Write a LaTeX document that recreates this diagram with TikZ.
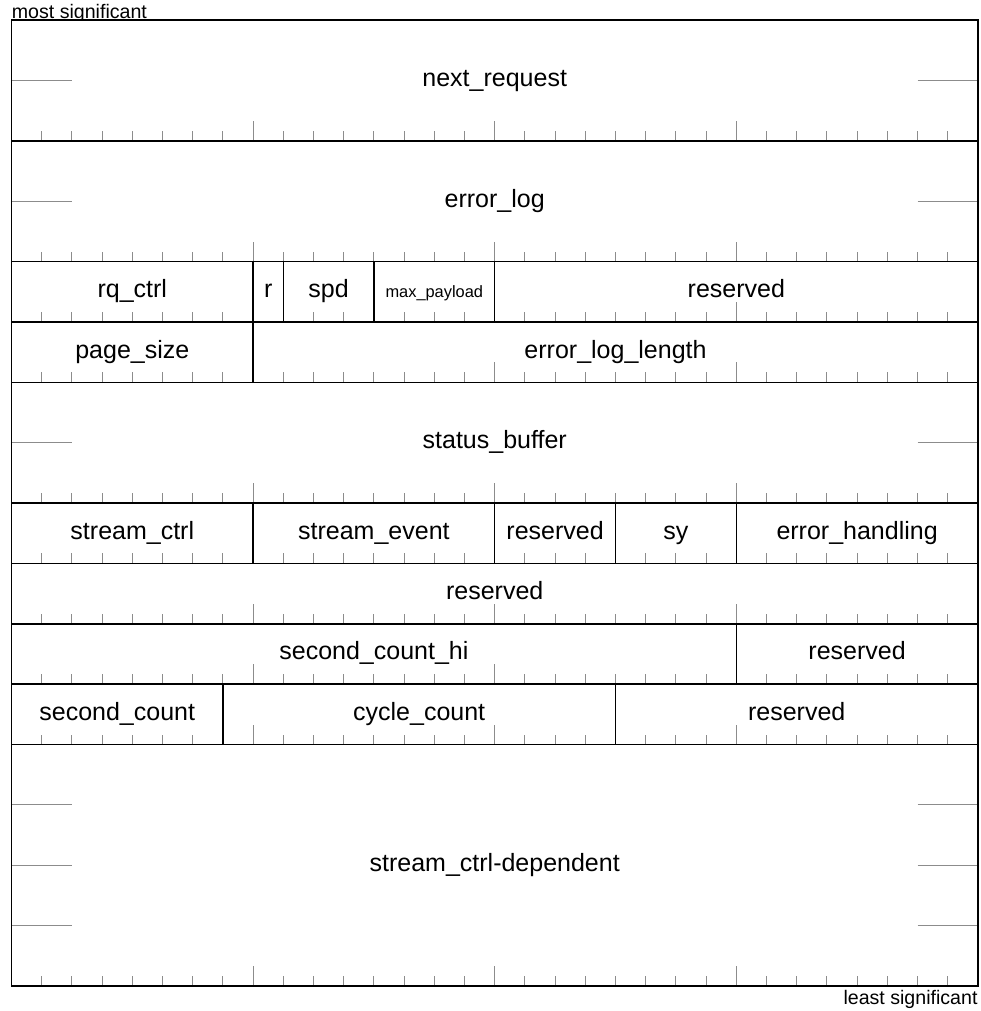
\documentclass[tikz,border=0pt]{standalone}
\usepackage{fontspec}
\setmainfont{Liberation Sans}
\tikzset{
  regline/.style={draw=black, line width=0.75pt},
  tickline/.style={draw=black!45, line width=0.5pt},
  fieldlabel/.style={font=\fontsize{12.5}{15}\selectfont, inner sep=0pt, text height=0.85em, text depth=0.25em},
  tinylabel/.style={font=\fontsize{8.2}{10}\selectfont, inner sep=0pt, text height=0.85em, text depth=0.25em},
  edgelabel/.style={font=\fontsize{9.8}{12}\selectfont, inner sep=0pt}
}
\begin{document}
\begin{tikzpicture}[x=15.1pt, y=-30.1875pt]
\useasboundingbox (-5.75pt,10pt) rectangle (484.25pt,-495.5pt);

% Labels outside the register
\node[edgelabel, anchor=base west] (msb) at (0,-0.02) {most significant};
\node[edgelabel, anchor=base east] (lsb) at (32,16.31) {least significant};
\fill[white] (0,0) rectangle (32,16);

% Bit ticks along the bottom of every row
\foreach \yb in {2,4,5,6,8,9,10,11,12,16}{
  \foreach \b in {1,...,31}{
    \draw[tickline] (\b,\yb) -- ++(0,5pt);
  }
  \foreach \b in {8,16,24}{
    \draw[tickline] (\b,\yb) -- ++(0,10pt);
  }
}
% Side ticks inside multi-word rows
\foreach \ys in {1,3,7,13,14,15}{
  \draw[tickline] (0,\ys) -- (2,\ys);
  \draw[tickline] (30,\ys) -- (32,\ys);
}

% Row 1: next_request
\draw[regline] (0,0) rectangle (32,2);
\node[fieldlabel] (nextreq) at (16,1) {next\_request};

% Row 2: error_log
\draw[regline] (0,2) rectangle (32,4);
\node[fieldlabel] (errlog) at (16,3) {error\_log};

% Row 3: rq_ctrl, r, spd, max_payload, reserved
\draw[regline] (0,4) rectangle (8,5);
\draw[regline] (8,4) rectangle (9,5);
\draw[regline] (9,4) rectangle (12,5);
\draw[regline] (12,4) rectangle (16,5);
\draw[regline] (16,4) rectangle (32,5);
\node[fieldlabel] (rqctrl) at (4,4.5) {rq\_ctrl};
\node[fieldlabel] (rbit) at (8.5,4.5) {r};
\node[fieldlabel] (spd) at (10.5,4.5) {spd};
\node[tinylabel] (maxpay) at (14,4.5) {max\_payload};
\node[fieldlabel] (resa) at (24,4.5) {reserved};

% Row 4: page_size, error_log_length
\draw[regline] (0,5) rectangle (8,6);
\draw[regline] (8,5) rectangle (32,6);
\node[fieldlabel] (pagesize) at (4,5.5) {page\_size};
\node[fieldlabel] (errloglen) at (20,5.5) {error\_log\_length};

% Row 5: status_buffer
\draw[regline] (0,6) rectangle (32,8);
\node[fieldlabel] (statbuf) at (16,7) {status\_buffer};

% Row 6: stream_ctrl, stream_event, reserved, sy, error_handling
\draw[regline] (0,8) rectangle (8,9);
\draw[regline] (8,8) rectangle (16,9);
\draw[regline] (16,8) rectangle (20,9);
\draw[regline] (20,8) rectangle (24,9);
\draw[regline] (24,8) rectangle (32,9);
\node[fieldlabel] (strctrl) at (4,8.5) {stream\_ctrl};
\node[fieldlabel] (strevent) at (12,8.5) {stream\_event};
\node[fieldlabel] (resb) at (18,8.5) {reserved};
\node[fieldlabel] (sy) at (22,8.5) {sy};
\node[fieldlabel] (errhand) at (28,8.5) {error\_handling};

% Row 7: reserved
\draw[regline] (0,9) rectangle (32,10);
\node[fieldlabel] (resc) at (16,9.5) {reserved};

% Row 8: second_count_hi, reserved
\draw[regline] (0,10) rectangle (24,11);
\draw[regline] (24,10) rectangle (32,11);
\node[fieldlabel] (seccnthi) at (12,10.5) {second\_count\_hi};
\node[fieldlabel] (resd) at (28,10.5) {reserved};

% Row 9: second_count, cycle_count, reserved
\draw[regline] (0,11) rectangle (7,12);
\draw[regline] (7,11) rectangle (20,12);
\draw[regline] (20,11) rectangle (32,12);
\node[fieldlabel] (seccnt) at (3.5,11.5) {second\_count};
\node[fieldlabel] (cyccnt) at (13.5,11.5) {cycle\_count};
\node[fieldlabel] (rese) at (26,11.5) {reserved};

% Row 10: stream_ctrl-dependent
\draw[regline] (0,12) rectangle (32,16);
\node[fieldlabel] (strdep) at (16,14) {stream\_ctrl-dependent};
\end{tikzpicture}
\end{document}
